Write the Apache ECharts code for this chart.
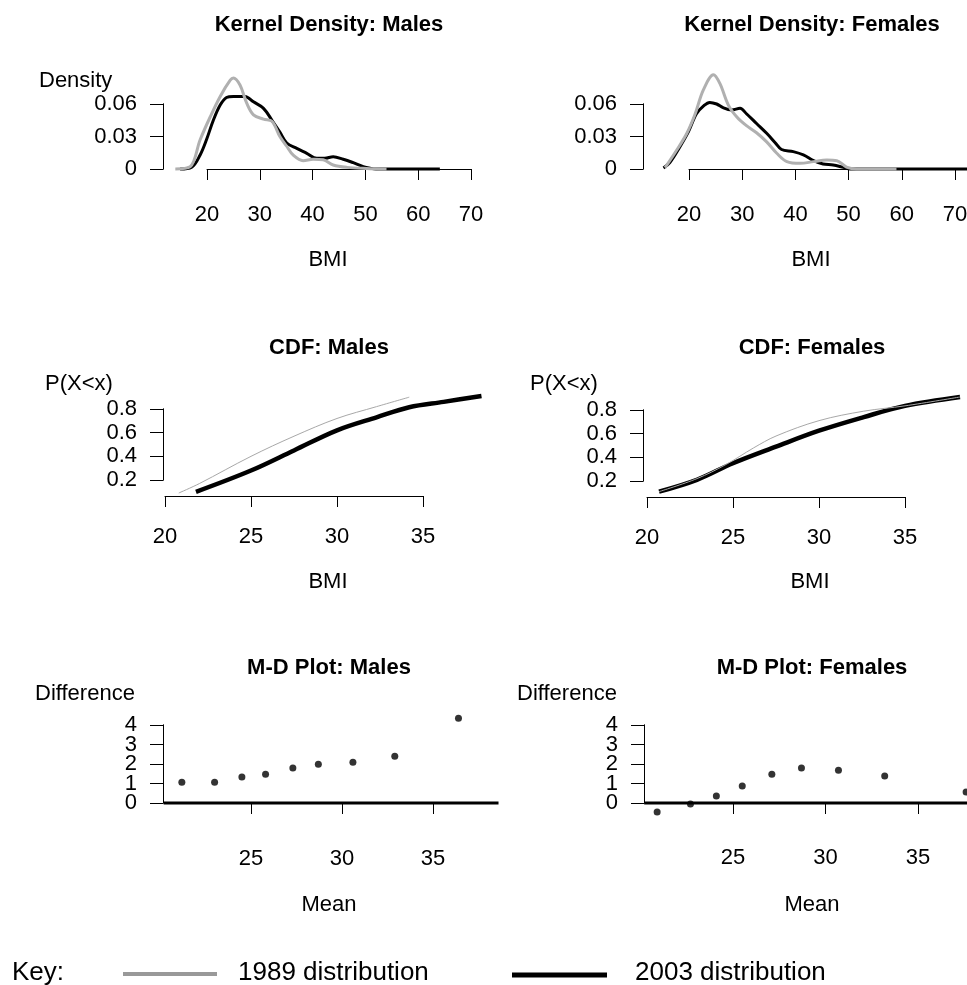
<!DOCTYPE html>
<html>
<head>
<meta charset="utf-8">
<script src="https://cdn.jsdelivr.net/npm/echarts@6/dist/echarts.min.js"></script>
<style>
  html, body { margin: 0; padding: 0; background: #fff; }
  #main { width: 967px; height: 985px; }
</style>
</head>
<body>
<div id="main"></div>
<script>
// kernel density, [BMI, density]
const kdMales1989 = [[14.0, 0], [16.8, 0.002], [18.7, 0.027], [20.6, 0.048], [22.5, 0.067], [24.4, 0.082], [25.0, 0.084], [26.25, 0.0775], [27.5, 0.061], [28.8, 0.050], [30.7, 0.046], [32.3, 0.044], [33.8, 0.030], [35.1, 0.021], [36.3, 0.013], [38.2, 0.0077], [40.1, 0.009], [42.0, 0.0085], [43.9, 0.0037], [46.5, 0.0015], [50.2, 0.0005], [54.0, 0]]
const kdMales2003 = [[14.9, 0], [17.1, 0.0017], [18.7, 0.013], [19.9, 0.027], [21.2, 0.045], [22.5, 0.059], [23.7, 0.066], [25.0, 0.067], [27.2, 0.067], [28.8, 0.062], [30.7, 0.056], [32.3, 0.045], [33.8, 0.034], [35.1, 0.024], [37.0, 0.019], [38.9, 0.0145], [40.8, 0.0099], [42.3, 0.0099], [43.9, 0.0114], [45.8, 0.009], [47.7, 0.0058], [49.6, 0.0022], [50.9, 0.0007], [52.0, 0], [64.1, 0]]
const kdFemales1989 = [[15.5, 0.0012], [17.7, 0.0175], [19.6, 0.033], [21.1, 0.050], [22.7, 0.073], [24.6, 0.087], [25.8, 0.079], [27.4, 0.059], [29.0, 0.048], [30.8, 0.040], [32.7, 0.0335], [34.6, 0.025], [36.5, 0.0145], [38.4, 0.0068], [40.9, 0.0052], [43.4, 0.0068], [45.9, 0.0083], [47.8, 0.0077], [49.6, 0.0018], [51.5, 0], [59.0, 0]]
const kdFemales2003 = [[15.2, 0.001], [16.4, 0.006], [18.3, 0.0206], [19.9, 0.0345], [21.4, 0.051], [22.7, 0.058], [23.9, 0.0615], [25.2, 0.060], [26.4, 0.0566], [28.0, 0.0545], [29.6, 0.056], [30.8, 0.051], [32.7, 0.042], [34.6, 0.033], [36.2, 0.0243], [37.4, 0.018], [39.6, 0.016], [41.5, 0.013], [43.4, 0.0077], [45.2, 0.0046], [47.1, 0.0037], [49.0, 0.0015], [50.3, 0], [73.0, 0]]

// cdf, [BMI, P(X<x)]
const cdfMales1989 = [[20.8, 0.09], [22.0, 0.17], [25.0, 0.40], [27.5, 0.57], [30.0, 0.72], [32.3, 0.82], [34.2, 0.90]]
const cdfMales2003 = [[21.8, 0.10], [25.0, 0.28], [27.5, 0.45], [30.0, 0.62], [32.3, 0.73], [34.2, 0.815], [36.2, 0.86], [38.4, 0.91]]
const cdfFemales1989 = [[20.7, 0.11], [22.9, 0.22], [24.6, 0.34], [26.2, 0.48], [27.5, 0.58], [30.0, 0.71], [32.6, 0.79], [35.0, 0.835], [38.2, 0.91]]
const cdfFemales2003 = [[20.7, 0.11], [22.9, 0.21], [25.0, 0.35], [27.5, 0.49], [30.0, 0.625], [32.6, 0.74], [35.0, 0.835], [38.2, 0.91]]

// mean-difference points
const mdMalesMean = [21.2, 23.0, 24.5, 25.8, 27.3, 28.7, 30.6, 32.9, 36.4]
const mdMalesDiff = [1.07, 1.07, 1.33, 1.48, 1.79, 1.99, 2.09, 2.4, 4.34]
const mdFemalesMean = [20.9, 22.7, 24.1, 25.5, 27.1, 28.7, 30.7, 33.2, 37.6]
const mdFemalesDiff = [-0.46, -0.05, 0.36, 0.87, 1.48, 1.79, 1.68, 1.38, 0.56]
const mdPlotRange = [20.2, 38.6] // extent of the h=0 reference line

// tick values
const bmiTicksKD = [20, 30, 40, 50, 60, 70]
const densityTicks = [0, 0.03, 0.06]
const bmiTicksCDF = [20, 25, 30, 35]
const probTicks = [0.2, 0.4, 0.6, 0.8]
const meanTicks = [25, 30, 35]
const diffTicks = [0, 1, 2, 3, 4]

const FONT = "'Liberation Sans', Arial, sans-serif"
const GRAY = '#b0b0b0'

// pixel box of each panel's tick range, and how far R's axes sit off that box
const panels = [
  { left: 207, top: 104, width: 264, height: 65, x: bmiTicksKD, y: densityTicks, xOff: 5, yOff: 44 },
  { left: 689, top: 104, width: 266, height: 65, x: bmiTicksKD, y: densityTicks, xOff: 5, yOff: 46 },
  { left: 165, top: 409, width: 258, height: 71, x: bmiTicksCDF, y: probTicks, xOff: 16, yOff: 2 },
  { left: 647, top: 410, width: 258, height: 71, x: bmiTicksCDF, y: probTicks, xOff: 16, yOff: 4 },
  { left: 251, top: 725, width: 182, height: 78, x: meanTicks, y: diffTicks, xOff: 15, yOff: 88 },
  { left: 733, top: 725, width: 185, height: 78, x: meanTicks, y: diffTicks, xOff: 14, yOff: 89 }
]

const zip = (xs, ys) => xs.map((x, i) => [x, ys[i]])
const first = a => a[0]
const last = a => a[a.length - 1]

const grids = []
const xAxes = []
const yAxes = []
const dataAxis = [] // per panel: index of the hidden x/y axes the series use

function yTickAxis (gridIndex, p, values) {
  return {
    type: 'value', gridIndex, position: 'left', min: first(p.y), max: last(p.y), offset: p.yOff,
    splitLine: { show: false },
    axisLine: { show: true, lineStyle: { color: '#000', width: 1 } },
    axisTick: { show: true, length: 13, customValues: values, lineStyle: { color: '#000', width: 1 } },
    axisLabel: {
      color: '#000', fontSize: 22, fontFamily: FONT, margin: 26,
      customValues: values, showMinLabel: true, showMaxLabel: true, hideOverlap: false
    }
  }
}

panels.forEach((p, i) => {
  // visible R-style axes
  const g = grids.length
  grids.push({ left: p.left, top: p.top, width: p.width, height: p.height, outerBoundsMode: 'none' })
  xAxes.push({
    type: 'value', gridIndex: g, min: first(p.x), max: last(p.x), offset: p.xOff,
    splitLine: { show: false },
    axisLine: { lineStyle: { color: '#000', width: 1 } },
    axisTick: { length: 11, customValues: p.x, lineStyle: { color: '#000', width: 1 } },
    axisLabel: { color: '#000', fontSize: 22, fontFamily: FONT, margin: 30, customValues: p.x, showMinLabel: true, showMaxLabel: true }
  })
  // R packs tight tick labels together; split them over two stacked axes so none is dropped
  yAxes.push(yTickAxis(g, p, p.y.filter((v, k) => k % 2 === 0)))
  yAxes.push(yTickAxis(g, p, p.y.filter((v, k) => k % 2 === 1)))

  // wider hidden grid on the same scale, so the data can run past the tick range
  const xr = last(p.x) - first(p.x)
  const yr = last(p.y) - first(p.y)
  grids.push({ left: p.left - p.width, top: p.top - p.height, width: 3 * p.width, height: 3 * p.height, outerBoundsMode: 'none' })
  dataAxis.push({ x: xAxes.length, y: yAxes.length })
  xAxes.push({ type: 'value', gridIndex: g + 1, min: first(p.x) - xr, max: last(p.x) + xr, show: false })
  yAxes.push({ type: 'value', gridIndex: g + 1, min: first(p.y) - yr, max: last(p.y) + yr, show: false })
})

function txt (text, x, y, opts = {}) {
  return {
    type: 'text', x, y, silent: true,
    style: {
      text,
      font: (opts.bold ? 'bold ' : '') + (opts.size || 22) + 'px ' + FONT,
      fill: '#000',
      textAlign: opts.align || 'center',
      textVerticalAlign: 'middle'
    }
  }
}
function lineSeries (name, data, panel, color, width) {
  return {
    name, type: 'line', data, xAxisIndex: dataAxis[panel].x, yAxisIndex: dataAxis[panel].y,
    smooth: 0.35, showSymbol: false, symbol: 'none', clip: false,
    lineStyle: { color, width }
  }
}
function dotSeries (data, panel) {
  return {
    type: 'scatter', data, xAxisIndex: dataAxis[panel].x, yAxisIndex: dataAxis[panel].y,
    clip: false, symbolSize: 7, itemStyle: { color: '#000' }
  }
}

const chart = echarts.init(document.getElementById('main'))
chart.setOption({
  backgroundColor: '#fff',
  animation: false,
  grid: grids,
  xAxis: xAxes,
  yAxis: yAxes,
  series: [
    lineSeries('2003 distribution', kdMales2003, 0, '#000', 3),
    lineSeries('1989 distribution', kdMales1989, 0, GRAY, 3),
    lineSeries('2003 distribution', kdFemales2003, 1, '#000', 3),
    lineSeries('1989 distribution', kdFemales1989, 1, GRAY, 3),
    lineSeries('1989 distribution', cdfMales1989, 2, '#a8a8a8', 1),
    lineSeries('2003 distribution', cdfMales2003, 2, '#000', 4.5),
    lineSeries('2003 distribution', cdfFemales2003, 3, '#000', 4.5),
    lineSeries('1989 distribution', cdfFemales1989, 3, '#a8a8a8', 1),
    lineSeries('zero', mdPlotRange.map(x => [x, 0]), 4, '#000', 3),
    lineSeries('zero', mdPlotRange.map(x => [x, 0]), 5, '#000', 3),
    dotSeries(zip(mdMalesMean, mdMalesDiff), 4),
    dotSeries(zip(mdFemalesMean, mdFemalesDiff), 5)
  ],
  graphic: [
    txt('Kernel Density: Males', 329, 25, { bold: true }),
    txt('Kernel Density: Females', 812, 25, { bold: true }),
    txt('CDF: Males', 329, 348, { bold: true }),
    txt('CDF: Females', 812, 348, { bold: true }),
    txt('M-D Plot: Males', 329, 668, { bold: true }),
    txt('M-D Plot: Females', 812, 668, { bold: true }),
    txt('Density', 39, 81, { align: 'left' }),
    txt('BMI', 328, 260),
    txt('BMI', 811, 260),
    txt('P(X<x)', 45, 384, { align: 'left' }),
    txt('P(X<x)', 530, 384, { align: 'left' }),
    txt('BMI', 328, 582),
    txt('BMI', 810, 582),
    txt('Difference', 35, 694, { align: 'left' }),
    txt('Difference', 517, 694, { align: 'left' }),
    txt('Mean', 329, 905),
    txt('Mean', 812, 905),
    // key
    txt('Key:', 12, 973, { align: 'left', size: 26 }),
    { type: 'line', silent: true, shape: { x1: 123, y1: 974, x2: 217, y2: 974 }, style: { stroke: '#999', lineWidth: 4 } },
    txt('1989 distribution', 238, 973, { align: 'left', size: 26 }),
    { type: 'line', silent: true, shape: { x1: 512, y1: 975, x2: 607, y2: 975 }, style: { stroke: '#000', lineWidth: 5 } },
    txt('2003 distribution', 635, 973, { align: 'left', size: 26 })
  ]
})
</script>
</body>
</html>
